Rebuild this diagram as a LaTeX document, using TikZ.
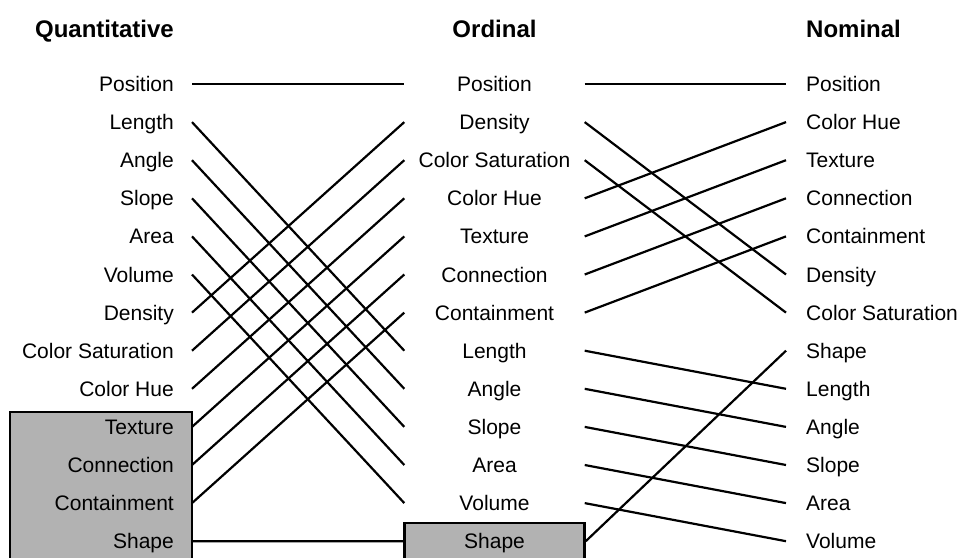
\documentclass[tikz,border=0pt]{standalone}
\usepackage{fontspec}
\setmainfont{Liberation Sans}
\usetikzlibrary{positioning}

\begin{document}
\begin{tikzpicture}[x=1pt, y=-1pt,
  every node/.style={font=\fontsize{21}{25}\selectfont, text height=15pt, text depth=0pt},
  quant/.style={anchor=east, inner xsep=18pt},
  ord/.style={minimum width=180pt, inner xsep=0pt},
  nom/.style={anchor=west, inner xsep=20pt},
  head/.style={font=\fontsize{24}{28}\selectfont\bfseries},
  grey box/.style={fill=gray!60, draw=black, line width=2.5pt},
  link/.style={line width=2.2pt}]
\useasboundingbox (0,0) rectangle (961,557);

% shaded block behind the last four quantitative entries
\draw[grey box] (10,412) rectangle (192,580);

\node[head, anchor=east, inner xsep=18pt] (hq) at (192,30) {Quantitative};
\node[head] (ho) at (494.5,30) {Ordinal};
\node[head, anchor=west, inner xsep=20pt] (hn) at (786,30) {Nominal};

\foreach \txt [count=\i] in {Position, Length, Angle, Slope, Area, Volume,
    Density, Color Saturation, Color Hue, Texture, Connection, Containment, Shape}
  \node[quant] (q\i) at (192,{84+38.1*(\i-1)}) {\txt};

\foreach \txt [count=\i] in {Position, Density, Color Saturation, Color Hue,
    Texture, Connection, Containment, Length, Angle, Slope, Area, Volume}
  \node[ord] (o\i) at (494.5,{84+38.1*(\i-1)}) {\txt};
\node[ord, grey box, minimum height=36pt] (o13) at (494.5,541.2) {Shape};

\foreach \txt [count=\i] in {Position, Color Hue, Texture, Connection,
    Containment, Density, Color Saturation, Shape, Length, Angle, Slope, Area, Volume}
  \node[nom] (n\i) at (786,{84+38.1*(\i-1)}) {\txt};

% quantitative -> ordinal
\foreach \a/\b in {1/1, 2/8, 3/9, 4/10, 5/11, 6/12, 7/2, 8/3, 9/4, 10/5, 11/6, 12/7, 13/13}
  \draw[link] (q\a.east) -- (o\b.west);

% ordinal -> nominal
\foreach \a/\b in {1/1, 2/6, 3/7, 4/2, 5/3, 6/4, 7/5, 8/9, 9/10, 10/11, 11/12, 12/13, 13/8}
  \draw[link] (o\a.east) -- (n\b.west);
\end{tikzpicture}
\end{document}
